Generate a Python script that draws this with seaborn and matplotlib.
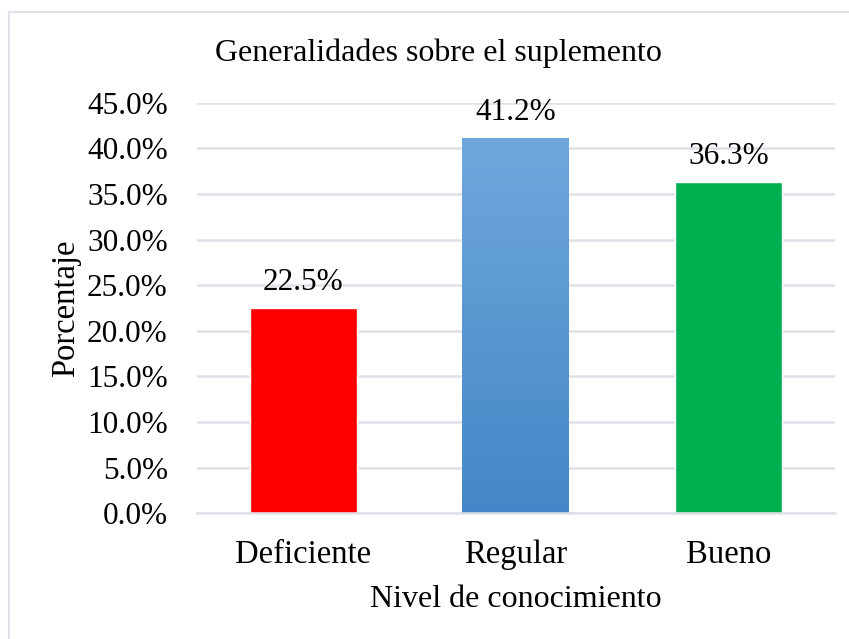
import numpy as np
import pandas as pd
import seaborn as sns
import matplotlib.pyplot as plt
from matplotlib.patches import Rectangle

# datos
niveles = ['Deficiente', 'Regular', 'Bueno']
porcentajes = [22.5, 41.2, 36.3]
colores = ['#FF0000', '#5B9BD5', '#00B050']
yticks = np.arange(0, 46, 5)

df = pd.DataFrame({'Nivel': niveles, 'Porcentaje': porcentajes})

sns.set_style('white')
plt.rcParams['font.family'] = ['Liberation Serif', 'DejaVu Serif']
plt.rcParams['text.color'] = 'black'
plt.rcParams['axes.labelcolor'] = 'black'
plt.rcParams['xtick.color'] = 'black'
plt.rcParams['ytick.color'] = 'black'

fig = plt.figure(figsize=(8.49, 6.39), dpi=100)
ax = fig.add_axes([0.232, 0.197, 0.7515, 0.642])

sns.barplot(data=df, x='Nivel', y='Porcentaje', hue='Nivel', palette=colores,
            width=0.503, legend=False, ax=ax, saturation=1)

# degradado en la barra azul
bar = ax.patches[1]
x0, w, h = bar.get_x(), bar.get_width(), bar.get_height()
grad = np.linspace(0, 1, 256).reshape(-1, 1)
cmap = sns.blend_palette(['#4486C7', '#6FA8DC'], as_cmap=True)
im = ax.imshow(grad, extent=[x0, x0 + w, 0, h], origin='lower', aspect='auto',
               cmap=cmap, zorder=bar.get_zorder())
im.set_clip_path(bar)
bar.set_alpha(0)

for p, v in zip(ax.patches, porcentajes):
    ax.text(p.get_x() + p.get_width() / 2, v + 1.2, f'{v:.1f}%',
            ha='center', va='bottom', fontsize=22.5)

ax.set_ylim(0, 45)
ax.set_xlim(-0.5, 2.5)
ax.set_yticks(yticks)
ax.set_yticklabels([f'{t:.1f}%' for t in yticks], fontsize=22.5)
ax.tick_params(axis='x', labelsize=23.5, length=0, pad=19)
ax.tick_params(axis='y', length=0, pad=21)
ax.yaxis.grid(True, color='#DEE1E8', linewidth=1.8)
ax.set_axisbelow(True)
for s in ['top', 'right', 'left']:
    ax.spines[s].set_visible(False)
ax.spines['bottom'].set_color('#DEE1E8')
ax.spines['bottom'].set_linewidth(1.8)

fig.text(438 / 849, 1 - 53 / 639, 'Generalidades sobre el suplemento',
         fontsize=23, ha='center', va='center')
ax.set_xlabel('Nivel de conocimiento', fontsize=23, labelpad=11)
ax.set_ylabel('Porcentaje', fontsize=23.5, labelpad=4)

# borde del grafico
fig.patches.append(Rectangle((9 / 849, -0.05), 1.0, 1 - 12 / 639 + 0.05,
                             transform=fig.transFigure, fill=False,
                             edgecolor='#DEE1E8', linewidth=1.5))

fig.savefig('out.png', dpi=100)
